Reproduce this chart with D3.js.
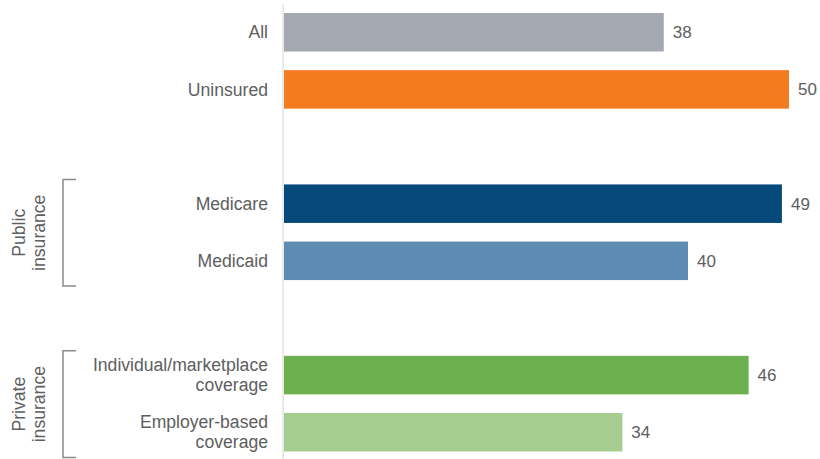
<!DOCTYPE html>
<html>
<head>
<meta charset="utf-8">
<script src="https://cdn.jsdelivr.net/npm/d3@7"></script>
<style>
  html, body { margin: 0; padding: 0; background: #fff; }
  svg { display: block; font-family: "Liberation Sans", Arial, sans-serif; }
</style>
</head>
<body>
<svg id="chart" width="820" height="459"></svg>
<script>
// ---- data ----
const slots = ["all", "uninsured", "gap1", "medicare", "medicaid", "gap2", "individual", "employer"];
const categories = ["all", "uninsured", "medicare", "medicaid", "individual", "employer"];
const categoryLabels = [["All"], ["Uninsured"], ["Medicare"], ["Medicaid"], ["Individual/marketplace", "coverage"], ["Employer-based", "coverage"]];
const values = [37.6, 50, 49.3, 40, 46, 33.5];
const valueLabels = ["38", "50", "49", "40", "46", "34"];
const colors = ["#a4a8b0", "#f47b20", "#054a7b", "#5d8bb1", "#6cb04f", "#a4cd8f"];
const groups = [
  { lines: ["Public", "insurance"], from: "medicare", to: "medicaid" },
  { lines: ["Private", "insurance"], from: "individual", to: "employer" }
];

// ---- layout ----
const svg = d3.select("#chart");
const x0 = 284;
const x = d3.scaleLinear().domain([0, 50]).range([x0, x0 + 505]);
const y = d3.scaleBand().domain(slots).range([3.7, 460.8]).paddingInner(0.326).paddingOuter(0.163);

const textColor = "#5e5e5e";

// axis line
svg.append("line")
  .attr("x1", x0 - 1).attr("x2", x0 - 1)
  .attr("y1", 4).attr("y2", 459)
  .attr("stroke", "#e3e3e3").attr("stroke-width", 1.5);

const rows = categories.map((c, i) => ({ c, v: values[i], lab: valueLabels[i], col: colors[i], name: categoryLabels[i] }));

// bars
svg.selectAll("rect.bar").data(rows).enter().append("rect")
  .attr("class", "bar")
  .attr("x", x(0))
  .attr("y", d => y(d.c))
  .attr("width", d => x(d.v) - x(0))
  .attr("height", y.bandwidth())
  .attr("fill", d => d.col);

// value labels
svg.selectAll("text.val").data(rows).enter().append("text")
  .attr("class", "val")
  .attr("x", d => x(d.v) + 9)
  .attr("y", d => y(d.c) + y.bandwidth() / 2)
  .attr("dy", "0.35em")
  .attr("font-size", 17)
  .attr("fill", textColor)
  .text(d => d.lab);

// category labels
const lineH = 20;
rows.forEach(d => {
  const cy = y(d.c) + y.bandwidth() / 2;
  const n = d.name.length;
  const t = svg.append("text")
    .attr("text-anchor", "end")
    .attr("font-size", 17.6)
    .attr("fill", textColor);
  d.name.forEach((ln, j) => {
    t.append("tspan")
      .attr("x", 268)
      .attr("y", cy + (j - (n - 1) / 2) * lineH)
      .attr("dy", "0.35em")
      .text(ln);
  });
});

// group brackets
groups.forEach(g => {
  const top = y(g.from) - 5;
  const bot = y(g.to) + y.bandwidth() + 6;
  const bx = 63, bx2 = 76;
  svg.append("path")
    .attr("d", `M${bx2},${top} H${bx} V${bot} H${bx2}`)
    .attr("fill", "none")
    .attr("stroke", "#8a8a8a")
    .attr("stroke-width", 1.5);
  const cy = (top + bot) / 2;
  const t = svg.append("text")
    .attr("transform", `translate(0,${cy}) rotate(-90)`)
    .attr("text-anchor", "middle")
    .attr("font-size", 17.6)
    .attr("fill", textColor);
  g.lines.forEach((ln, j) => {
    t.append("tspan")
      .attr("x", 0)
      .attr("y", 25 + j * 20)
      .text(ln);
  });
});
</script>
</body>
</html>
